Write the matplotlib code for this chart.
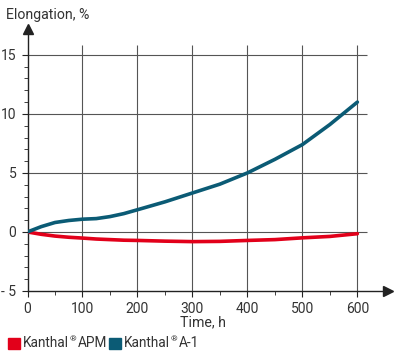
import matplotlib.pyplot as plt
from matplotlib.patches import Rectangle

# data
hours = [0, 25, 50, 75, 100, 125, 150, 175, 200, 250, 300, 350, 400, 450, 500, 550, 600]
a1 = [0, 0.45, 0.8, 0.97, 1.08, 1.13, 1.3, 1.55, 1.88, 2.55, 3.3, 4.05, 5.0, 6.15, 7.4, 9.1, 11.0]
apm = [0, -0.2, -0.35, -0.45, -0.52, -0.6, -0.65, -0.7, -0.72, -0.78, -0.82, -0.8, -0.72, -0.65, -0.5, -0.38, -0.15]

x_major = [0, 100, 200, 300, 400, 500, 600]
y_major = [-5, 0, 5, 10, 15]
series = ['APM', 'A-1']

red = '#e2001a'
teal = '#0b5b75'
txt = '#333333'

plt.rcParams['font.family'] = ['Roboto', 'DejaVu Sans']

fig = plt.figure(figsize=(3.97, 3.57), dpi=100)
ax = fig.add_axes([0.0693, 0.185, 0.907, 0.734])
ax.set_xlim(0, 655)
ax.set_ylim(-5, 17.2)

# grid, stopping short of the arrows
ax.hlines([0, 5, 10, 15], 0, 617, color='#555555', lw=0.8, zorder=1)
ax.vlines(x_major[1:], -5, 15.8, color='#555555', lw=0.8, zorder=1)

ax.plot(hours, apm, color=red, lw=2.6, solid_capstyle='round', zorder=3)
ax.plot(hours, a1, color=teal, lw=2.6, solid_capstyle='round', zorder=3)

for s in ['top', 'right']:
    ax.spines[s].set_visible(False)
for s in ['left', 'bottom']:
    ax.spines[s].set_color('#222222')
    ax.spines[s].set_linewidth(1.0)
ax.plot(1, -5, '>', color='#222222', ms=7, transform=ax.get_yaxis_transform(), clip_on=False)
ax.plot(0, 1, '^', color='#222222', ms=7, transform=ax.get_xaxis_transform(), clip_on=False)

ax.set_xticks(x_major)
ax.set_xticks(range(50, 600, 100), minor=True)
ax.set_yticks(y_major)
ax.set_yticks([y for y in range(-4, 15) if y % 5], minor=True)
ax.tick_params(which='both', direction='out', color='#222222', labelcolor=txt, labelsize=10)
ax.tick_params(which='major', length=4, pad=4)
ax.tick_params(which='minor', length=3)
ax.set_yticklabels(['- 5', '0', '5', '10', '15'])

W, H = 397, 357
fig.text(6 / W, 1 - 15 / H, 'Elongation, %', color=txt, fontsize=10.2, va='center')
fig.text(203 / W, 1 - 322 / H, 'Time, h', color=txt, fontsize=10.2, va='center', ha='center')

# legend: colored squares with "Kanthal® ..." labels
renderer = fig.canvas.get_renderer()
for name, col, x0 in zip(series, [red, teal], [8, 109]):
    fig.patches.append(Rectangle((x0 / W, 8 / H), 12 / W, 11 / H, color=col,
                                 transform=fig.transFigure, figure=fig))
    t = fig.text((x0 + 15) / W, 1 - 343 / H, 'Kanthal', color=txt, fontsize=9.8, va='center')
    bb = t.get_window_extent(renderer)
    r = fig.text(bb.x1 / W + 0.001, 1 - 339 / H, '\u00ae', color=txt, fontsize=6, va='center')
    bb2 = r.get_window_extent(renderer)
    fig.text(bb2.x1 / W + 0.0055, 1 - 343 / H, name, color=txt, fontsize=9.8, va='center')

fig.savefig('out.png', dpi=100)
